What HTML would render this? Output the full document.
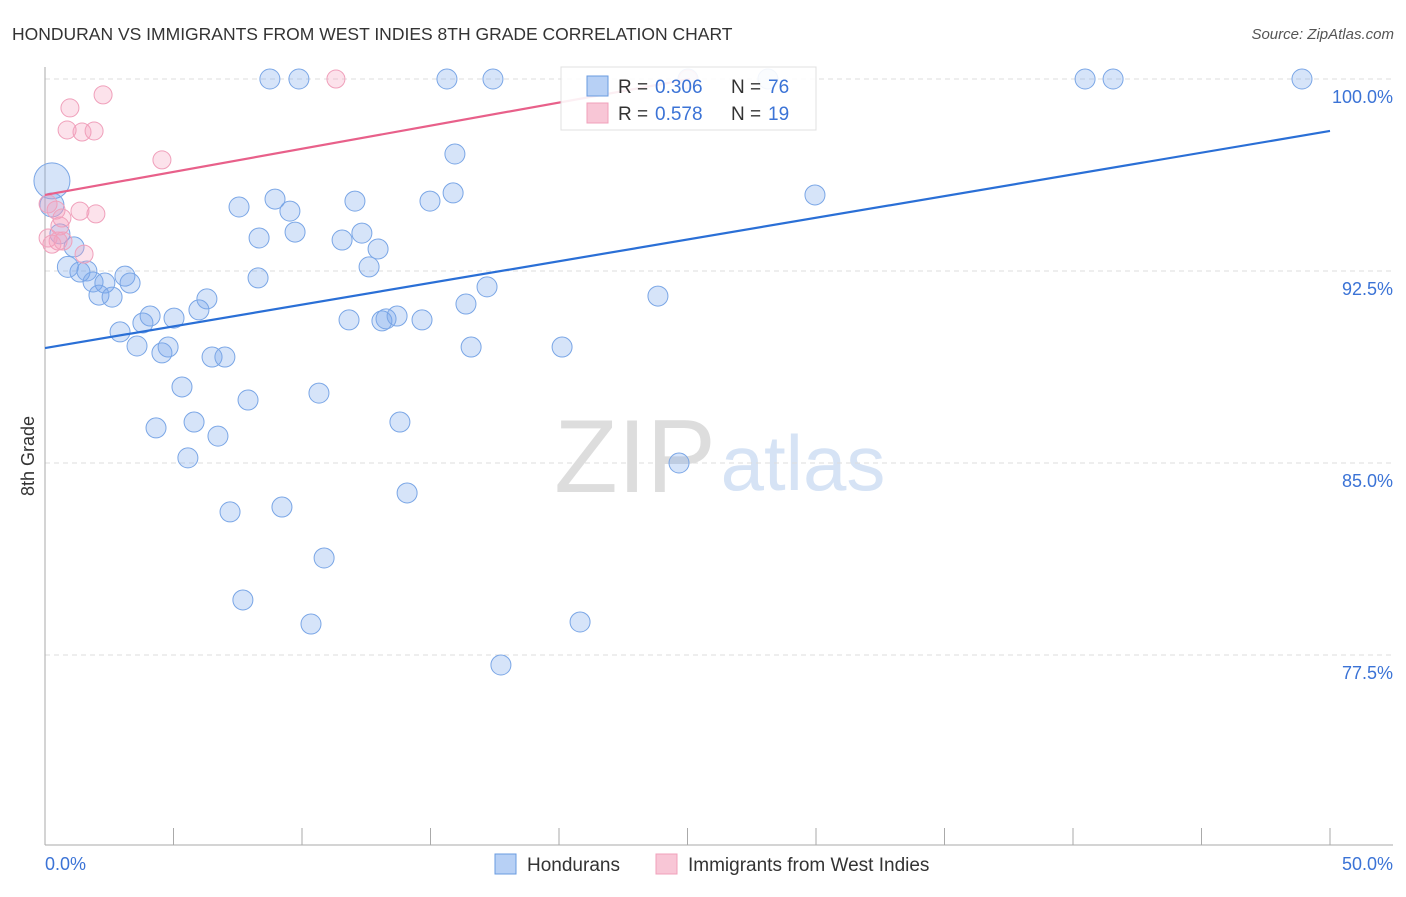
<!DOCTYPE html>
<html><head><meta charset="utf-8"><style>
body{margin:0;background:#fff;font-family:"Liberation Sans",sans-serif}
svg text{font-family:"Liberation Sans",sans-serif}
</style></head><body>
<svg id="c" width="1406" height="892" xmlns="http://www.w3.org/2000/svg">
<text x="12" y="40" font-size="17.5" fill="#333">HONDURAN VS IMMIGRANTS FROM WEST INDIES 8TH GRADE CORRELATION CHART</text>
<text x="1394" y="39" font-size="15" fill="#555" font-style="italic" text-anchor="end">Source: ZipAtlas.com</text>
<text x="34" y="456" font-size="18" fill="#333" text-anchor="middle" transform="rotate(-90 34 456)">8th Grade</text>
<g>
<text x="635" y="492" font-size="104" fill="#ddd" font-family="Liberation Serif, serif" text-anchor="middle">ZIP</text>
<text x="803" y="490" font-size="78" fill="#d6e3f5" text-anchor="middle">atlas</text>
</g>
<g id="grid"></g><g id="axes"></g><g id="pts"></g><g id="lines"></g>
<g>
<rect x="561" y="67" width="255" height="63" fill="#fff" stroke="#ddd" opacity="0.9"/>
<rect x="587" y="76" width="21" height="20" fill="#b7d0f5" stroke="#6a9be0"/>
<text x="618" y="93" font-size="19" fill="#333">R =</text>
<text x="655" y="93" font-size="19" fill="#3b73d6">0.306</text>
<text x="731" y="93" font-size="19" fill="#333">N =</text>
<text x="768" y="93" font-size="19" fill="#3b73d6">76</text>
<rect x="587" y="103" width="21" height="20" fill="#f8c6d6" stroke="#f0a0bb"/>
<text x="618" y="120" font-size="19" fill="#333">R =</text>
<text x="655" y="120" font-size="19" fill="#3b73d6">0.578</text>
<text x="731" y="120" font-size="19" fill="#333">N =</text>
<text x="768" y="120" font-size="19" fill="#3b73d6">19</text>
</g>
<g>
<rect x="495" y="854" width="21" height="20" fill="#b7d0f5" stroke="#6a9be0"/>
<text x="527" y="871" font-size="19" fill="#333">Hondurans</text>
<rect x="656" y="854" width="21" height="20" fill="#f8c6d6" stroke="#f0a0bb"/>
<text x="688" y="871" font-size="19" fill="#333">Immigrants from West Indies</text>
</g>
</svg>
<script>
const yTicks=[100,92.5,85,77.5];
const yTickLabels=["100.0%","92.5%","85.0%","77.5%"];
const xTickLabels=["0.0%","50.0%"];
const blueX=[8.75,9.88,15.64,17.43,25.02,28.13,40.47,41.56,48.91,0.27,0.27,0.58,1.13,0.89,1.36,1.63,1.87,2.33,2.10,2.61,3.11,3.31,2.92,3.81,4.09,5.02,3.58,4.55,4.79,5.99,6.30,6.50,7.00,5.33,5.80,4.32,6.73,5.56,7.90,7.20,7.70,9.22,10.35,10.86,10.66,13.81,14.09,17.74,20.82,24.67,7.55,8.33,8.29,8.95,9.53,9.73,11.56,12.06,12.33,12.96,12.61,11.83,13.11,13.27,13.70,14.67,14.98,15.88,15.95,16.38,16.58,17.20,20.12,23.85,29.96];
const blueY=[100,100,100,100,100,100,100,100,100,96.02,95.08,93.95,93.44,92.66,92.46,92.50,92.07,92.03,91.56,91.48,92.30,92.03,90.12,90.47,90.74,90.66,89.57,89.30,89.53,90.98,91.41,89.14,89.14,87.97,86.60,86.37,86.05,85.20,87.46,83.09,79.65,83.28,78.71,81.29,87.73,86.60,83.83,77.11,78.79,85.00,95.00,93.79,92.23,95.31,94.84,94.02,93.71,95.23,93.98,93.36,92.66,90.59,90.55,90.63,90.74,90.59,95.23,95.55,97.07,91.21,89.53,91.88,89.53,91.52,95.47];
const blueSize=[1,1,1,1,1,1,1,1,1,1.8,1.2,1,1,1.05,1,1,1,1,1,1,1,1,1,1,1,1,1,1,1,1,1,1,1,1,1,1,1,1,1,1,1,1,1,1,1,1,1,1,1,1,1,1,1,1,1,1,1,1,1,1,1,1,1,1,1,1,1,1,1,1,1,1,1,1,1];
const pinkX=[0.97,2.26,0.86,1.44,1.91,4.55,11.32,25.02,0.43,0.66,1.36,1.98,0.12,0.51,0.27,0.70,1.52,0.58,0.12];
const pinkY=[98.87,99.38,98.01,97.93,97.97,96.84,100,100,94.88,94.57,94.84,94.73,93.79,93.67,93.55,93.67,93.16,94.26,95.12];
const blueTrend=[89.49,97.97];
const pinkTrendY=[95.47,100];const pinkTrendX=[0,25.1];
const X=v=>45+v*25.7, Y=v=>79+(100-v)*25.6;
const NS="http://www.w3.org/2000/svg";
function mk(t,a,p){const e=document.createElementNS(NS,t);for(const k in a)e.setAttribute(k,a[k]);p.appendChild(e);return e;}
const grid=document.getElementById('grid'),axes=document.getElementById('axes'),pts=document.getElementById('pts'),lines=document.getElementById('lines');
yTicks.forEach((t,i)=>{
 const l=mk('line',{x1:45,x2:1393,y1:Y(t),y2:Y(t),stroke:'#ddd','stroke-dasharray':'5,4'},grid);
 
 
 const tx=mk('text',{x:1393,y:Y(t)+24,'font-size':18,fill:'#3b73d6','text-anchor':'end'},axes);
 tx.textContent=yTickLabels[i];
 
 
});
mk('line',{x1:45,x2:45,y1:67,y2:845,stroke:'#aaa'},axes);
mk('line',{x1:45,x2:1393,y1:845,y2:845,stroke:'#aaa'},axes);
for(let k=0;k<=10;k++){const tk=mk('line',{x1:X(k*5),x2:X(k*5),y1:828,y2:845,stroke:'#aaa'},axes);
 
 }
const xl0=mk('text',{x:45,y:870,'font-size':18,fill:'#3b73d6'},axes);xl0.textContent=xTickLabels[0];


const xl1=mk('text',{x:1393,y:870,'font-size':18,fill:'#3b73d6','text-anchor':'end'},axes);xl1.textContent=xTickLabels[1];


blueX.forEach((v,i)=>{const c=mk('circle',{cx:X(v),cy:Y(blueY[i]),r:10*blueSize[i],fill:'rgba(120,165,235,0.3)',stroke:'#7aa6e6','stroke-width':1},pts);
 
 });
pinkX.forEach((v,i)=>{const c=mk('circle',{cx:X(v),cy:Y(pinkY[i]),r:9,fill:'rgba(245,160,190,0.3)',stroke:'#f0a0bb','stroke-width':1},pts);
 
 });
const bl=mk('line',{x1:X(0),y1:Y(blueTrend[0]),x2:X(50),y2:Y(blueTrend[1]),stroke:'#2a6fd6','stroke-width':2.2},lines);


const pl=mk('line',{x1:X(pinkTrendX[0]),y1:Y(pinkTrendY[0]),x2:X(pinkTrendX[1]),y2:Y(pinkTrendY[1]),stroke:'#e8608a','stroke-width':2.2},lines);


</script>
</body></html>
